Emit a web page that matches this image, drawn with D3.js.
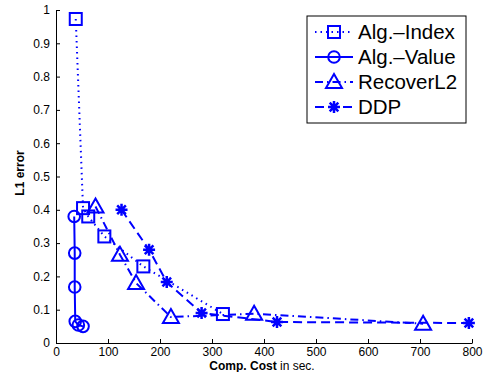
<!DOCTYPE html>
<html>
<head>
  <style>
  body { margin: 0; background: #fff; font-family: Arial, "Liberation Sans", sans-serif; }
  .axis text { font-size: 12px; fill: #000; }
  .axis path, .axis line { stroke: #000; }
  </style>
</head>
<body>
  <div id="chart"></div>
  <script src="https://d3js.org/d3.v7.min.js"></script>
  <script>
  // series: [cost in sec, L1 error]
  var algIndex = [[38, 0.973], [52, 0.405], [62, 0.38], [93, 0.32], [168, 0.23], [321, 0.087]];
  var algValue = [[35, 0.38], [36, 0.27], [36, 0.168], [37, 0.065], [43, 0.054], [52, 0.05]];
  var recoverL2 = [[76, 0.41], [123, 0.265], [154, 0.18], [221, 0.078], [381, 0.088], [706, 0.058]];
  var ddp = [[126, 0.40], [179, 0.28], [213, 0.183], [280, 0.09], [425, 0.063], [794, 0.06]];
  var names = ["Alg.\u2013Index", "Alg.\u2013Value", "RecoverL2", "DDP"];
  var xTicks = d3.range(0, 801, 100);
  var yTicks = d3.range(0, 11).map(function(d){ return d / 10; });

  var blue = "#0000ff";
  var W = 488, H = 372;
  var margin = {left: 56, right: 16, top: 10, bottom: 29};

  var svg = d3.select("#chart").append("svg")
      .attr("width", W)
      .attr("height", H);

  var x = d3.scaleLinear().domain([0, 800]).range([margin.left, W - margin.right]);
  var y = d3.scaleLinear().domain([0, 1]).range([H - margin.bottom, margin.top]);

  var xAxis = d3.axisBottom(x).tickValues(xTicks).tickSizeInner(-4).tickSizeOuter(0).tickPadding(4)
    .tickFormat(d3.format("d"));
  var yAxis = d3.axisLeft(y).tickValues(yTicks).tickSizeInner(-4).tickSizeOuter(0).tickPadding(6)
    .tickFormat(function(d){ return d === 0 ? "0" : d === 1 ? "1" : d3.format(".1f")(d); });

  svg.append("g")
      .attr("class", "x axis")
      .attr("transform", "translate(0," + y(0) + ")")
      .call(xAxis);

  svg.append("g")
      .attr("class", "y axis")
      .attr("transform", "translate(" + x(0) + ",0)")
      .call(yAxis);

  svg.selectAll(".axis").attr("font-family", null);

  // axis labels
  var xl = svg.append("text")
      .attr("x", 262)
      .attr("y", 370)
      .attr("text-anchor", "middle")
      .style("font-size", "12px");
  xl.append("tspan").attr("font-weight", "bold").text("Comp. Cost");
  xl.append("tspan").text(" in sec.");

  svg.append("text")
      .attr("transform", "translate(24,173) rotate(-90)")
      .attr("text-anchor", "middle")
      .attr("font-weight", "bold")
      .style("font-size", "12px")
      .text("L1 error");

  var series = [
    {data: algIndex, dash: "1.5,4", marker: "square"},
    {data: algValue, dash: null, marker: "circle"},
    {data: recoverL2, dash: "8,4,1.5,4", marker: "triangle"},
    {data: ddp, dash: "9,5", marker: "star"}
  ];

  var line = d3.line()
    .x(function(d){ return x(d[0]); })
    .y(function(d){ return y(d[1]); });

  function drawMarker(g, type, cx, cy) {
    var m = g.append("g").attr("transform", "translate(" + cx + "," + cy + ")")
      .attr("fill", "none").attr("stroke", blue).attr("stroke-width", 2);
    if (type === "square") {
      m.append("rect").attr("x", -6).attr("y", -6).attr("width", 12).attr("height", 12);
    } else if (type === "circle") {
      m.append("circle").attr("r", 5.8);
    } else if (type === "triangle") {
      m.append("path").attr("d", "M0,-8L8,6L-8,6Z");
    } else {
      var r = 6;
      var a = r * 0.72;
      m.append("path").attr("d",
        "M" + (-r) + ",0L" + r + ",0M0," + (-r) + "L0," + r +
        "M" + (-a) + "," + (-a) + "L" + a + "," + a +
        "M" + (-a) + "," + a + "L" + a + "," + (-a))
        .attr("stroke-width", 2.5);
    }
  }

  series.forEach(function(s){
    svg.append("path")
        .datum(s.data)
        .attr("d", line)
        .attr("fill", "none")
        .attr("stroke", blue)
        .attr("stroke-width", 2)
        .attr("stroke-dasharray", s.dash);
    s.data.forEach(function(d){
      drawMarker(svg, s.marker, x(d[0]), y(d[1]));
    });
  });

  // legend
  var lg = svg.append("g").attr("transform", "translate(307,16)");
  lg.append("rect")
      .attr("width", 159)
      .attr("height", 107)
      .attr("fill", "#fff")
      .attr("stroke", "#000")
      .attr("stroke-width", 1);

  series.forEach(function(s, i){
    var ly = 16 + i * 25;
    lg.append("line")
        .attr("x1", 8).attr("x2", 46)
        .attr("y1", ly).attr("y2", ly)
        .attr("stroke", blue)
        .attr("stroke-width", 2)
        .attr("stroke-dasharray", s.dash);
    drawMarker(lg, s.marker, 27, ly);
    lg.append("text")
        .attr("x", 51)
        .attr("y", ly + 7)
        .style("font-size", "20.5px")
        .text(names[i]);
  });
  </script>
</body>
</html>
